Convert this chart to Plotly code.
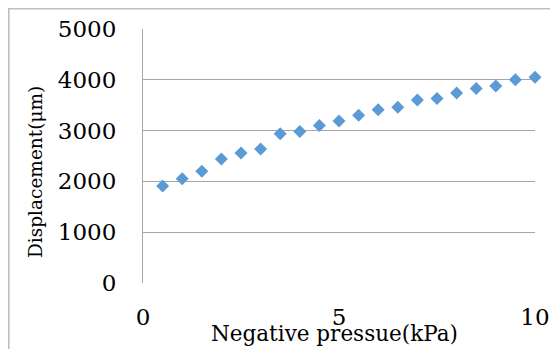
import plotly.graph_objects as go

pressure = [0.5, 1, 1.5, 2, 2.5, 3, 3.5, 4, 4.5, 5, 5.5, 6, 6.5, 7, 7.5, 8, 8.5, 9, 9.5, 10]
displacement = [1910, 2050, 2200, 2440, 2560, 2640, 2940, 2980, 3100, 3190,
                3300, 3410, 3460, 3600, 3630, 3740, 3830, 3880, 4000, 4050]
x_ticks = [0, 5, 10]
y_ticks = [0, 1000, 2000, 3000, 4000, 5000]
x_title = "Negative pressue(kPa)"
y_title = "Displacement(μm)"

font_family = "DejaVu Serif"

fig = go.Figure()
fig.add_trace(go.Scatter(
    x=pressure, y=displacement, mode="markers",
    marker=dict(symbol="diamond", size=10, color="#5B9BD5"),
    showlegend=False, cliponaxis=False,
))

fig.update_layout(
    width=550, height=341,
    margin=dict(l=135, r=23, t=21, b=66),
    paper_bgcolor="white", plot_bgcolor="white",
    font=dict(family=font_family, color="black"),
    xaxis=dict(
        range=[0, 10], tickvals=x_ticks, ticktext=[str(v) for v in x_ticks],
        showgrid=False, zeroline=False, showline=False, ticks="",
        tickfont=dict(size=23), ticklabelstandoff=18,
        automargin=False,
    ),
    yaxis=dict(
        range=[0, 5000], tickvals=y_ticks, ticktext=[str(v) for v in y_ticks],
        showgrid=True, gridcolor="#A6A6A6", gridwidth=1,
        zeroline=False, showline=True, linecolor="#A6A6A6", linewidth=1, ticks="",
        tickfont=dict(size=23), ticklabelstandoff=21,
        automargin=False,
    ),
    annotations=[
        dict(text=x_title, xref="paper", yref="paper", x=0.5, y=0,
             xanchor="center", yanchor="top", xshift=-5, yshift=-36, showarrow=False,
             font=dict(size=21.5)),
        dict(text=y_title, xref="paper", yref="paper", x=0, y=0.5,
             xanchor="center", yanchor="middle", xshift=-108, yshift=-16,
             textangle=-90, showarrow=False, font=dict(size=18.5)),
    ],
    shapes=[dict(
        type="rect", xref="paper", yref="paper",
        x0=-134.2 / 392, x1=1.2, y0=-0.5, y1=1 + 20.2 / 254,
        line=dict(color="#BFBFBF", width=1.6), fillcolor="rgba(0,0,0,0)", layer="above",
    )],
)

fig.write_html("out.html")
